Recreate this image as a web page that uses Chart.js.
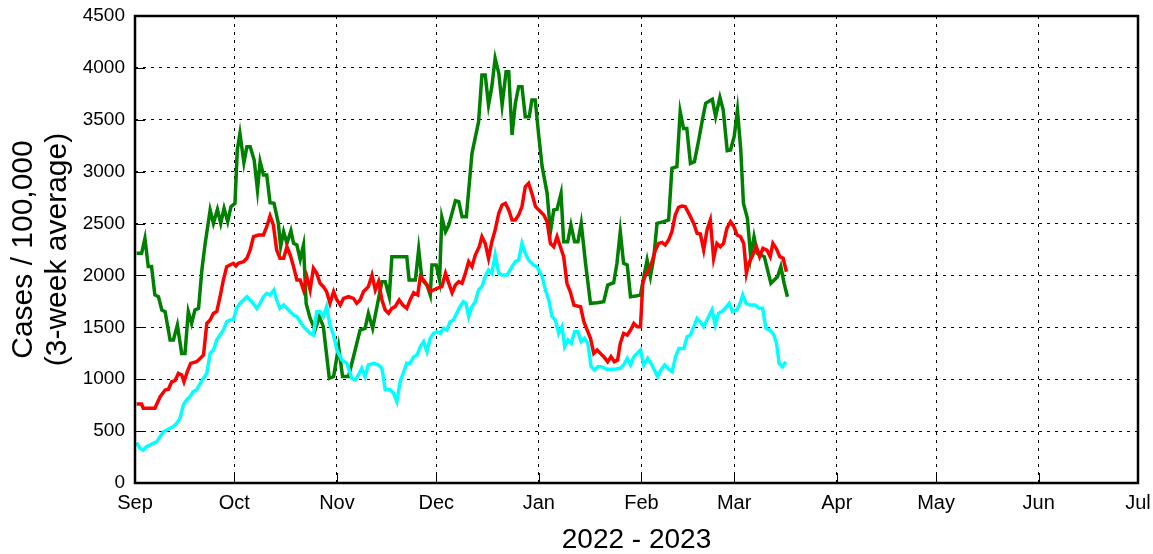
<!DOCTYPE html>
<html>
<head>
<meta charset="utf-8">
<script src="https://cdn.jsdelivr.net/npm/chart.js@4/dist/chart.umd.min.js"></script>
<style>
  html, body { margin: 0; padding: 0; background: #fff; }
  #wrap { width: 1153px; height: 554px; }
</style>
</head>
<body>
<div id="wrap"><canvas id="casesChart" width="1153" height="554"></canvas></div>
<script>
// x is days since 1 Sep 2022
const monthDays = [0, 30, 61, 91, 122, 153, 181, 212, 242, 273, 303];
const monthLabels = ["Sep", "Oct", "Nov", "Dec", "Jan", "Feb", "Mar", "Apr", "May", "Jun", "Jul"];

const greenDays = [0.5, 2, 3, 4, 5, 6, 7.1, 8.1, 9.1, 10.6, 11.6, 12.8, 14.1, 15.1, 16.1, 17.1, 18.1, 19.2, 20.2, 21.2,
  22.7, 23.7, 24.9, 25.9, 26.9, 28, 29, 30.2, 30.9, 31.7, 32.9, 33.8, 34.8, 36, 37, 37.8, 38.8, 39.8, 40.8, 42,
  43.3, 44, 44.9, 45.9, 47.1, 47.9, 48.9, 49.9, 50.9, 51.7, 52.9, 54.4, 55.7, 56.9, 58.7, 60, 61.5, 62.7, 64.5, 66,
  68, 69.5, 70.5, 71.8, 73.1, 74.6, 75.6, 76.8, 77.6, 79.1, 82.1, 82.8, 84.7, 85.7, 86.7, 88.2, 89.2, 89.7, 91, 92,
  92.7, 93.8, 94.8, 96.8, 97.8, 98.8, 100.1, 101.8, 103.8, 104.8, 105.8, 106.8, 107.8, 108.8, 109.9, 110.9, 112.1, 112.9, 113.9, 114.9,
  115.9, 116.9, 117.9, 119.1, 119.9, 120.9, 122, 123, 124.5, 125.5, 126.5, 127.5, 128.7, 129.5, 130.7, 131.7, 132.8, 133.8, 134.8, 136.1,
  137.6, 139.6, 141.6, 142.8, 144.6, 145.6, 146.6, 147.6, 148.7, 149.7, 151.2, 152.7, 153.7, 154.7, 155.7, 156.7, 157.7, 159.7, 161.2, 162.2,
  163.7, 164.7, 165.7, 166.7, 167.8, 169, 170.3, 171.3, 172.4, 174.4, 175.4, 176.7, 177.7, 178.9, 179.9, 181, 182, 183, 183.8, 185,
  186, 187, 188, 190.1, 192.1, 194.1, 195.1, 196.1, 197.1];
const greenVals = [2213, 2213, 2357, 2085, 2085, 1812, 1795, 1667, 1651, 1378, 1378, 1522, 1249, 1249, 1651, 1538, 1667, 1683, 2052, 2309,
  2631, 2502, 2637, 2502, 2647, 2518, 2663, 2695, 3209, 3369, 3087, 3241, 3241, 3112, 2823, 3096, 2968, 2968, 2701, 2695,
  2502, 2277, 2422, 2309, 2431, 2309, 2293, 2155, 2293, 1731, 1587, 1474, 1603, 1506, 1009, 1026, 1314, 1026, 1026, 1217,
  1474, 1490, 1635, 1490, 1699, 1940, 1940, 1795, 2181, 2181, 2181, 1956, 1956, 2252, 1956, 1908, 1811, 2101, 2101, 1956,
  2560, 2422, 2486, 2721, 2711, 2566, 2566, 3177, 3482, 3931, 3931, 3642, 3819, 4092, 3948, 3642, 3963, 3963, 3353, 3658,
  3819, 3819, 3530, 3530, 3691, 3691, 3337, 3048, 2791, 2420, 2631, 2637, 2791, 2325, 2325, 2486, 2325, 2325, 2502, 2117,
  1731, 1737, 1747, 1908, 1930, 2117, 2422, 2117, 2101, 1795, 1801, 1811, 1988, 2149, 1988, 2165, 2502, 2518, 2534, 3032,
  3048, 3578, 3417, 3417, 3080, 3096, 3305, 3482, 3658, 3697, 3530, 3716, 3594, 3202, 3209, 3337, 3594, 3209, 2695, 2550,
  2181, 2373, 2213, 2181, 1924, 1988, 2085, 1924, 1795];

const redDays = [0.5, 2, 2.5, 6, 7.6, 9.1, 10.1, 11.1, 12.1, 13.1, 14.1, 14.8, 15.8, 16.8, 18.6, 19.2, 20.7, 21.7, 22.7, 23.7,
  24.7, 25.7, 26.7, 27.7, 28.7, 29.7, 30.5, 31.2, 32.8, 33.8, 34.8, 35.8, 37.3, 38.8, 39.8, 40.8, 41.8, 42.8, 43.8, 44.9,
  45.9, 46.9, 47.9, 48.9, 49.9, 50.9, 51.9, 52.9, 53.9, 54.9, 55.9, 56.9, 57.9, 58.9, 60, 61, 62, 63, 64.5, 66,
  67, 68, 69, 70.5, 71.6, 72.6, 73.6, 74.6, 75.6, 76.6, 77.6, 78.6, 79.8, 80.9, 82.1, 83.1, 84.2, 85.4, 86.2, 87.2,
  88.2, 89.2, 91.2, 92.7, 93.8, 94.8, 95.8, 96.8, 97.8, 98.8, 99.8, 100.8, 101.8, 102.8, 104, 104.8, 105.8, 106.8, 107.8, 108.8,
  109.9, 110.9, 111.9, 112.9, 113.9, 114.9, 115.9, 116.9, 117.9, 118.9, 119.9, 121, 122, 123.5, 124.5, 125.5, 126.5, 127.5, 128.5, 129.5,
  130.5, 131.5, 132.6, 133.6, 134.6, 135.6, 136.6, 137.6, 138.6, 139.6, 140.6, 141.6, 142.8, 143.8, 144.8, 145.8, 146.6, 147.6, 148.7, 149.7,
  150.7, 151.7, 152.7, 153.4, 154.2, 155.2, 156.2, 157.2, 158.2, 159.2, 160.2, 161.2, 162.2, 163.2, 164.2, 165.2, 166.2, 167.3, 168.8, 169.8,
  170.8, 171.8, 172.8, 173.8, 174.8, 175.8, 176.8, 177.8, 178.8, 179.9, 180.9, 181.9, 182.9, 183.9, 184.7, 185.4, 186.4, 187.7, 188.7, 189.7,
  190.9, 191.9, 192.7, 193.7, 194.8, 195.8, 196.8];
const redVals = [761, 761, 720, 720, 832, 896, 903, 976, 986, 1057, 1041, 976, 1073, 1153, 1169, 1185, 1233, 1538, 1570, 1635,
  1651, 1795, 1956, 2085, 2101, 2117, 2092, 2117, 2133, 2165, 2245, 2374, 2390, 2390, 2470, 2573, 2486, 2245, 2165, 2165,
  2277, 2197, 2085, 1956, 1956, 1860, 1988, 1860, 2069, 2020, 1924, 1892, 1843, 1731, 1843, 1763, 1715, 1779, 1795, 1779,
  1731, 1763, 1843, 1892, 2004, 1860, 1940, 1763, 1667, 1635, 1683, 1699, 1763, 1715, 1683, 1763, 1833, 1811, 1988, 1956,
  1908, 1843, 1876, 1892, 2020, 1924, 1833, 1908, 1940, 1924, 2020, 2133, 2085, 2197, 2277, 2374, 2309, 2165, 2325, 2438,
  2598, 2679, 2695, 2631, 2534, 2534, 2582, 2663, 2855, 2888, 2791, 2663, 2631, 2582, 2518, 2309, 2277, 2374, 2277, 2181,
  1924, 1843, 1715, 1705, 1699, 1554, 1474, 1394, 1249, 1281, 1249, 1217, 1169, 1217, 1169, 1185, 1346, 1442, 1426, 1474,
  1538, 1506, 1506, 1924, 2004, 2052, 2133, 2245, 2309, 2319, 2293, 2341, 2422, 2582, 2656, 2669, 2663, 2598, 2502, 2406,
  2399, 2245, 2438, 2534, 2165, 2309, 2277, 2309, 2454, 2518, 2470, 2390, 2374, 2309, 2020, 2117, 2181, 2277, 2181, 2261,
  2245, 2181, 2309, 2261, 2181, 2165, 2036];

const cyanDays = [0.5, 1.5, 2.5, 3.5, 4.5, 5.5, 6.6, 7.6, 8.6, 9.6, 10.6, 11.6, 12.6, 13.6, 14.6, 15.6, 16.6, 17.6, 18.6, 19.7,
  20.7, 21.7, 22.7, 23.7, 24.7, 25.7, 26.7, 27.7, 28.7, 29.7, 30.7, 31.7, 32.8, 33.8, 35.3, 36.8, 37.8, 38.8, 39.8, 40.8,
  42, 42.8, 43.8, 44.9, 45.9, 46.9, 47.9, 48.9, 49.9, 50.9, 51.9, 52.9, 53.9, 54.9, 55.9, 56.9, 57.9, 58.9, 60, 61,
  62.5, 64, 65.5, 66.5, 67.5, 68.5, 69.5, 70.5, 72.1, 73.6, 74.6, 75.6, 77.1, 78.1, 79.1, 80.1, 81.2, 82.1, 83.1, 84.2,
  85.2, 86.2, 87.2, 88.2, 89.2, 90.2, 91.2, 92.2, 93.2, 94.2, 95.2, 96.2, 97.2, 98.2, 99.2, 100, 100.8, 101.8, 102.8, 103.8,
  104.8, 105.8, 106.8, 107.8, 108.8, 109.9, 110.9, 112.4, 113.9, 114.9, 115.9, 116.9, 117.9, 118.9, 120.4, 121.4, 123, 124, 125, 126,
  127, 128, 129, 129.8, 130.8, 131.8, 132.8, 133.8, 134.8, 135.8, 136.8, 137.8, 138.8, 139.8, 140.8, 142.6, 144.6, 146.6, 147.6, 148.7,
  149.7, 150.7, 151.7, 152.7, 153.7, 154.9, 155.9, 156.9, 157.9, 158.9, 160, 161, 162.3, 163.3, 164.3, 165.8, 166.8, 167.8, 168.8, 169.8,
  170.8, 171.8, 172.8, 174.3, 175.3, 176.3, 177.3, 178.3, 179.5, 180.5, 181.8, 182.8, 183.6, 184.6, 185.8, 187.3, 188.6, 189.6, 190.6, 191.8,
  193, 193.8, 194.6, 195.6, 196.6];
const cyanVals = [390, 334, 318, 350, 366, 382, 398, 446, 494, 511, 527, 543, 575, 623, 752, 800, 832, 880, 896, 960,
  1009, 1057, 1249, 1281, 1378, 1426, 1474, 1554, 1570, 1570, 1683, 1731, 1763, 1795, 1747, 1683, 1731, 1795, 1827, 1811,
  1860, 1763, 1683, 1715, 1683, 1651, 1619, 1603, 1554, 1506, 1474, 1442, 1426, 1651, 1651, 1603, 1699, 1522, 1426, 1281,
  1185, 1153, 1009, 993, 1041, 1105, 1025, 1137, 1153, 1137, 1105, 898, 898, 864, 784, 977, 1073, 1153, 1153, 1217,
  1233, 1314, 1362, 1265, 1394, 1442, 1458, 1442, 1490, 1474, 1554, 1570, 1635, 1699, 1747, 1731, 1603, 1699, 1747, 1860,
  1892, 1988, 2052, 2020, 2197, 2020, 2004, 2004, 2085, 2133, 2149, 2309, 2213, 2149, 2101, 2085, 1988, 1860, 1763, 1603,
  1570, 1442, 1506, 1314, 1378, 1346, 1458, 1458, 1362, 1394, 1346, 1121, 1089, 1121, 1121, 1095, 1095, 1105, 1137, 1201,
  1137, 1217, 1249, 1281, 1137, 1201, 1153, 1089, 1025, 1089, 1137, 1105, 1073, 1217, 1297, 1297, 1410, 1426, 1506, 1587,
  1554, 1506, 1570, 1667, 1522, 1635, 1651, 1683, 1731, 1651, 1667, 1731, 1811, 1731, 1715, 1715, 1683, 1683, 1490, 1474,
  1426, 1346, 1153, 1121, 1169];

function toPoints(days, vals) {
    return days.map((d, i) => ({ x: d, y: vals[i] }));
}

// box round the plot plus short inward ticks on left and bottom
const frame = {
    id: "frame",
    afterDatasetsDraw(chart) {
        const { ctx, chartArea: a, scales: { x, y } } = chart;
        ctx.save();
        ctx.strokeStyle = "#000";
        ctx.lineWidth = 1;
        ctx.beginPath();
        x.ticks.forEach(t => {
            const px = Math.round(x.getPixelForValue(t.value)) + 0.5;
            ctx.moveTo(px, a.bottom);
            ctx.lineTo(px, a.bottom - 10);
        });
        y.ticks.forEach(t => {
            const py = Math.round(y.getPixelForValue(t.value)) + 0.5;
            ctx.moveTo(a.left, py);
            ctx.lineTo(a.left + 10, py);
        });
        ctx.stroke();
        ctx.lineWidth = 2.5;
        ctx.strokeRect(a.left, a.top, a.right - a.left, a.bottom - a.top);
        ctx.restore();
    }
};

const font = "'Liberation Sans', Arial, sans-serif";

new Chart(document.getElementById("casesChart"), {
    type: "line",
    data: {
        datasets: [
            { data: toPoints(cyanDays, cyanVals), borderColor: "#00ffff" },
            { data: toPoints(redDays, redVals), borderColor: "#ff0000" },
            { data: toPoints(greenDays, greenVals), borderColor: "#008000" }
        ]
    },
    options: {
        responsive: false,
        animation: false,
        layout: { padding: { top: 16, right: 15, left: 0, bottom: 0 } },
        elements: {
            line: { borderWidth: 3.5, tension: 0, fill: false },
            point: { radius: 0 }
        },
        plugins: { legend: { display: false }, tooltip: { enabled: false } },
        scales: {
            x: {
                type: "linear",
                min: 0,
                max: 303,
                afterBuildTicks: scale => { scale.ticks = monthDays.map(v => ({ value: v })); },
                afterFit: scale => {
                    scale.height = 71;
                    scale.paddingLeft = 0;
                    scale.paddingRight = 0;
                },
                ticks: {
                    autoSkip: false,
                    maxRotation: 0,
                    padding: 8,
                    color: "#000",
                    font: { family: font, size: 20 },
                    callback: v => monthLabels[monthDays.indexOf(v)]
                },
                grid: { color: "#000", lineWidth: 1, drawTicks: false },
                border: { display: false, dash: [3, 5] },
                title: {
                    display: true,
                    text: "2022 - 2023",
                    color: "#000",
                    font: { family: font, size: 28, lineHeight: 1 },
                    padding: 0
                }
            },
            y: {
                min: 0,
                max: 4500,
                afterFit: scale => {
                    scale.width = 135;
                    scale.paddingTop = 0;
                    scale.paddingBottom = 0;
                },
                ticks: {
                    stepSize: 500,
                    padding: 10,
                    color: "#000",
                    font: { family: font, size: 19 },
                    callback: v => String(v)
                },
                grid: { color: "#000", lineWidth: 1, drawTicks: false },
                border: { display: false, dash: [3, 5] },
                title: {
                    display: true,
                    text: ["Cases / 100,000", "(3-week average)"],
                    color: "#000",
                    font: { family: font, size: 30, lineHeight: 1.15 },
                    padding: { top: 6, bottom: 0 }
                }
            }
        }
    },
    plugins: [frame]
});
</script>
</body>
</html>
